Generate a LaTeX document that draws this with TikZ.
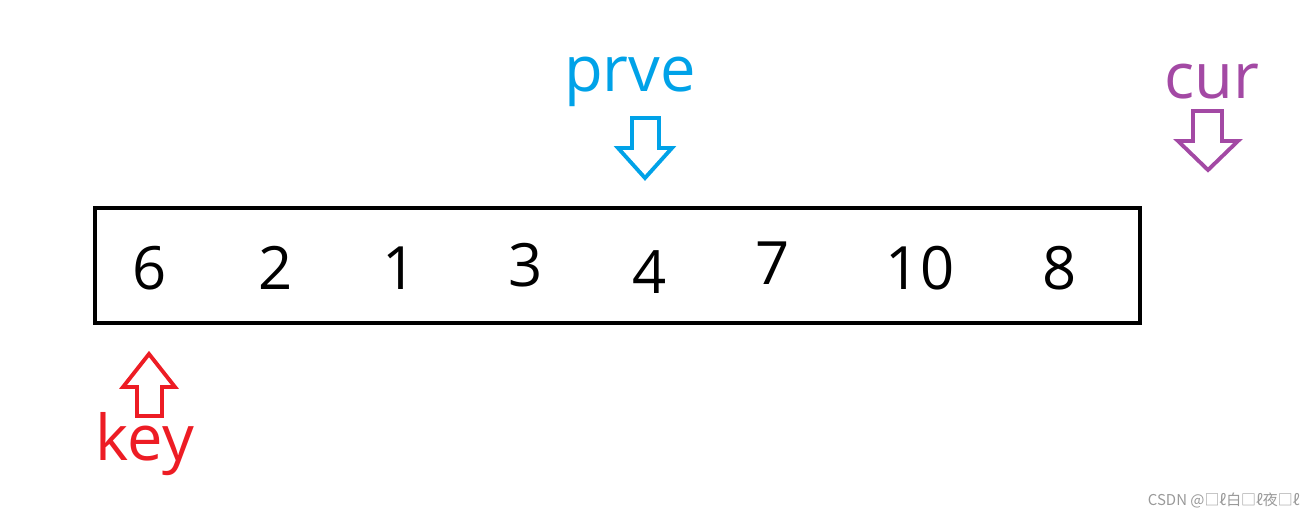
\documentclass[tikz,border=0pt]{standalone}
\usepackage{fontspec}
\setmainfont{Open Sans}
\newfontfamily\cjk{Noto Sans CJK SC}
\definecolor{cblue}{HTML}{00A2E8}
\definecolor{cpurple}{HTML}{A349A4}
\definecolor{cred}{HTML}{ED1C24}
\begin{document}
\begin{tikzpicture}[x=0.02cm,y=-0.02cm,
  num/.style={font=\fontsize{34}{40}\selectfont, inner sep=0pt, anchor=center},
  lbl/.style={font=\fontsize{36}{42}\selectfont, inner sep=0pt, anchor=center},
  arr/.style={line width=2.2pt, line join=miter, fill=white}]
\useasboundingbox (0,0) rectangle (1316,519);
\node[draw, line width=2.8pt, minimum width=1045*0.02cm, minimum height=115*0.02cm, inner sep=0pt] (box) at (617.5,265.5) {};
\node[num] (n1) at (150,268) {6};
\node[num] (n2) at (276,268) {2};
\node[num] (n3) at (400,268) {1};
\node[num] (n4) at (526,265) {3};
\node[num] (n5) at (650,272) {4};
\node[num] (n6) at (773,263) {7};
\node[num] (n7) at (920,268) {10};
\node[num] (n8) at (1060,268) {8};
\node[lbl, text=cblue] (prve) at (630,82) {prve};
\node[lbl, text=cpurple] (cur) at (1212,82) {cur};
\node[lbl, text=cred] (key) at (145,444) {key};
% arrows
\draw[arr, draw=cblue] (632,118) -- (659,118) -- (659,148) -- (672,148) -- (645,178) -- (618,148) -- (632,148) -- cycle;
\draw[arr, draw=cpurple] (1193,111) -- (1222,111) -- (1222,141) -- (1238,141) -- (1208,170) -- (1178,141) -- (1193,141) -- cycle;
\draw[arr, draw=cred] (137,416) -- (162,416) -- (162,387) -- (175,387) -- (149,354) -- (123,387) -- (137,387) -- cycle;
\node[font=\cjk\fontsize{8.5}{10}\selectfont, text=black!40, anchor=east, inner sep=0pt] (wm) at (1300,500) {CSDN @□ℓ白□ℓ夜□ℓ};
\end{tikzpicture}
\end{document}
